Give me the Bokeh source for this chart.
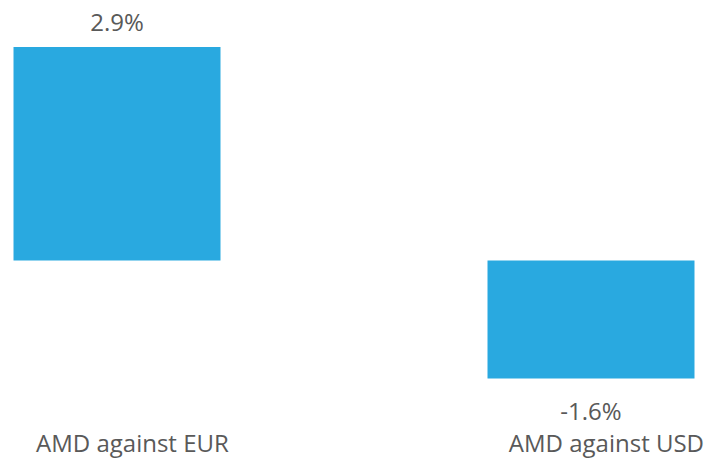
from bokeh.plotting import figure
from bokeh.models import ColumnDataSource, Range1d, FixedTicker, LabelSet
from bokeh.core.properties import value
from bokeh.embed import file_html
from bokeh.resources import INLINE

categories = ["AMD against EUR", "AMD against USD"]
changes = [2.9, -1.6]
value_labels = ["2.9%", "-1.6%"]

FONT = "Open Sans"
TEXT_COLOR = "#595959"
BAR_COLOR = "#29A9E0"
CAT_LABEL_SHIFT = 0.0325  # category labels sit slightly right of bar centres

xs = [i + 0.5 for i in range(len(categories))]
src = ColumnDataSource(dict(
    x=xs,
    top=changes,
    label=value_labels,
    yoff=[16 if v >= 0 else -42 for v in changes],
))

p = figure(width=709, height=461, output_backend="svg", toolbar_location=None,
           x_range=Range1d(0.2542, 1.75), y_range=Range1d(-2.293, 3.531),
           min_border_left=0, min_border_right=0, min_border_top=0, min_border_bottom=0)
p.outline_line_color = None
p.background_fill_color = "white"
p.border_fill_color = "white"
p.xgrid.visible = False
p.ygrid.visible = False
p.yaxis.visible = False

p.vbar(x="x", top="top", bottom=0, width=0.4367, source=src,
       fill_color=BAR_COLOR, line_color=None)

labels = LabelSet(x="x", y="top", text="label", source=src, text_align="center",
                  text_baseline="alphabetic", y_offset="yoff",
                  text_font=value(FONT), text_font_size=value("24px"),
                  text_color=value(TEXT_COLOR))
p.add_layout(labels)

tick_pos = [round(x + CAT_LABEL_SHIFT, 4) for x in xs]
ax = p.xaxis[0]
ax.ticker = FixedTicker(ticks=tick_pos)
ax.major_label_overrides = {t: c for t, c in zip(tick_pos, categories)}
ax.axis_line_color = None
ax.major_tick_line_color = None
ax.minor_tick_line_color = None
ax.major_label_text_font = FONT
ax.major_label_text_font_size = "24px"
ax.major_label_text_color = TEXT_COLOR
ax.major_label_standoff = -10

open("out.html", "w").write(file_html(p, INLINE))
